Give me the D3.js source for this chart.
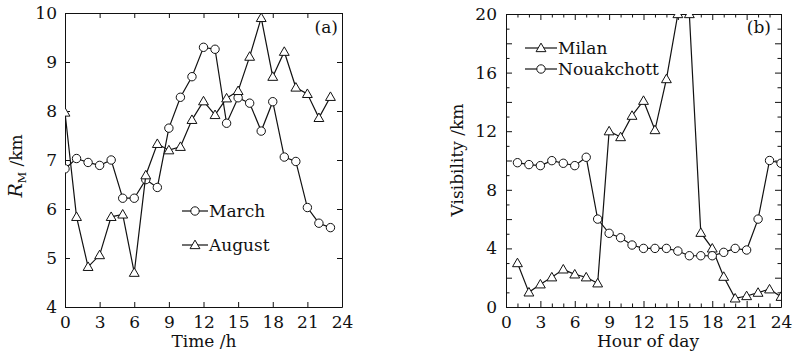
<!DOCTYPE html>
<html>
<head>
<meta charset="utf-8">
<script src="https://cdn.jsdelivr.net/npm/d3@7"></script>
<style>
  body { margin: 0; background: #fff; }
  svg text { font-family: "DejaVu Serif", serif; fill: #111; }
  .axis path, .axis line { stroke: #111; }
</style>
</head>
<body>
<div id="chart"></div>
<script>
// panel (a): hourly R_M in km
const hoursA = d3.range(0, 24);
const march = [6.82, 7.03, 6.95, 6.89, 7.0, 6.22, 6.22, 6.6, 6.44, 7.65, 8.28, 8.7,
    9.3, 9.26, 7.75, 8.27, 8.16, 7.59, 8.19, 7.06, 6.97, 6.03, 5.71, 5.62];
const august = [7.97, 5.84, 4.82, 5.06, 5.84, 5.89, 4.7, 6.69, 7.33, 7.2, 7.27, 7.82,
    8.2, 7.92, 8.26, 8.41, 9.11, 9.9, 8.7, 9.21, 8.48, 8.35, 7.86, 8.29];

// panel (b): visibility in km
const hoursB = d3.range(1, 25);
const milan = [3.0, 1.0, 1.55, 2.03, 2.57, 2.23, 2.03, 1.62, 12.0, 11.6, 13.06, 14.08,
    12.08, 15.56, 20.0, 20.0, 5.07, 4.0, 2.07, 0.59, 0.75, 0.98, 1.21, 0.7];
const nouakchott = [9.85, 9.72, 9.65, 9.99, 9.81, 9.65, 10.22, 6.0, 5.03, 4.73, 4.23, 4.0,
    4.0, 4.0, 3.82, 3.5, 3.5, 3.5, 3.73, 4.0, 3.89, 6.0, 10.0, 9.81];

const ticksA_x = d3.range(0, 25, 3);
const ticksA_y = d3.range(4, 11, 1);
const ticksB_x = d3.range(0, 25, 3);
const ticksB_y = d3.range(0, 21, 4);

const width = 795, height = 359;
const svg = d3.select('#chart').append('svg')
    .attr('width', width)
    .attr('height', height);

svg.append('defs').selectAll('clipPath')
    .data([{id: 'clipA', x: 65, y: 13, w: 277, h: 294}, {id: 'clipB', x: 506, y: 14, w: 275, h: 293}])
    .join('clipPath')
    .attr('id', d => d.id)
    .append('rect')
    .attr('x', d => d.x).attr('y', d => d.y)
    .attr('width', d => d.w).attr('height', d => d.h);

const triangle = d3.symbol().type(d3.symbolTriangle).size(42);
const fmt = d3.format('d');

function drawSeries(g, xs, ys, x, y, marker, clipId) {
    const pts = xs.map((h, i) => [x(h), y(ys[i])]);
    const grp = g.append('g').attr('clip-path', `url(#${clipId})`);
    grp.append('path')
        .datum(pts)
        .attr('fill', 'none')
        .attr('stroke', '#111')
        .attr('stroke-width', 1.2)
        .attr('d', d3.line());
    drawMarkers(grp, pts, marker);
}

function drawMarkers(grp, pts, marker) {
    if (marker === 'circle') {
        grp.selectAll(null).data(pts).join('circle')
            .attr('cx', d => d[0]).attr('cy', d => d[1]).attr('r', 4.2)
            .attr('fill', '#fff').attr('stroke', '#111').attr('stroke-width', 1);
    } else {
        grp.selectAll(null).data(pts).join('path')
            .attr('transform', d => `translate(${d[0]},${d[1] + 0.8})`)
            .attr('d', triangle)
            .attr('fill', '#fff').attr('stroke', '#111').attr('stroke-width', 1);
    }
}

function legendItem(g, x0, x1, yy, marker, label) {
    g.append('line').attr('x1', x0).attr('x2', x1).attr('y1', yy).attr('y2', yy)
        .attr('stroke', '#111').attr('stroke-width', 1.2);
    drawMarkers(g.append('g'), [[(x0 + x1) / 2, yy]], marker);
    g.append('text').attr('x', x1 + 1).attr('y', yy + 6)
        .style('font-size', '17px').text(label);
}

// ----- panel (a)
const xA = d3.scaleLinear().domain([0, 24]).range([65, 342]);
const yA = d3.scaleLinear().domain([4, 10]).range([307, 13]);
const gA = svg.append('g');

gA.append('g').attr('class', 'axis').attr('transform', 'translate(0,307)')
    .call(d3.axisBottom(xA).tickValues(ticksA_x).tickSizeInner(-5).tickSizeOuter(0).tickPadding(9).tickFormat(fmt))
    .call(a => a.selectAll('text').style('font-size', '17px').style('font-family', 'DejaVu Serif'));
gA.append('g').attr('class', 'axis').attr('transform', 'translate(0,13)')
    .call(d3.axisTop(xA).tickValues(ticksA_x).tickSizeInner(-5).tickSizeOuter(0).tickFormat(''));
gA.append('g').attr('class', 'axis').attr('transform', 'translate(65,0)')
    .call(d3.axisLeft(yA).tickValues(ticksA_y).tickSizeInner(-5).tickSizeOuter(0).tickPadding(8).tickFormat(fmt))
    .call(a => a.selectAll('text').style('font-size', '17px').style('font-family', 'DejaVu Serif'));
gA.append('g').attr('class', 'axis').attr('transform', 'translate(342,0)')
    .call(d3.axisRight(yA).tickValues(ticksA_y).tickSizeInner(-5).tickSizeOuter(0).tickFormat(''));

drawSeries(gA, hoursA, march, xA, yA, 'circle', 'clipA');
drawSeries(gA, hoursA, august, xA, yA, 'triangle', 'clipA');

legendItem(gA, 182, 208, 211, 'circle', 'March');
legendItem(gA, 182, 208, 245, 'triangle', 'August');

gA.append('text').attr('x', 338).attr('y', 33).attr('text-anchor', 'end')
    .style('font-size', '17px').text('(a)');
gA.append('text').attr('x', 204).attr('y', 347).attr('text-anchor', 'middle')
    .style('font-size', '17px').text('Time /h');
const ttlA = gA.append('text').attr('transform', 'translate(22,166) rotate(-90)')
    .attr('text-anchor', 'middle').style('font-size', '17px');
ttlA.append('tspan').style('font-style', 'italic').style('font-size', '19px').text('R');
ttlA.append('tspan').attr('dy', 4).style('font-size', '11px').text('M');
ttlA.append('tspan').attr('dy', -4).text(' /km');

// ----- panel (b)
const xB = d3.scaleLinear().domain([0, 24]).range([506, 781]);
const yB = d3.scaleLinear().domain([0, 20]).range([307, 14]);
const gB = svg.append('g');

const minorX = d3.range(0, 25, 1).filter(v => v % 3 !== 0);
const minorY = d3.range(0, 21, 1).filter(v => v % 2 !== 0);
const midY = d3.range(0, 21, 2).filter(v => v % 4 !== 0);

function ticksB(orient, pos, scale, major, minor, mid, labels) {
    const axisFn = {bottom: d3.axisBottom, top: d3.axisTop, left: d3.axisLeft, right: d3.axisRight}[orient];
    const tr = (orient === 'bottom' || orient === 'top') ? `translate(0,${pos})` : `translate(${pos},0)`;
    const g1 = gB.append('g').attr('class', 'axis').attr('transform', tr)
        .call(axisFn(scale).tickValues(major).tickSizeInner(-6).tickSizeOuter(0).tickPadding(9)
            .tickFormat(labels ? fmt : ''));
    g1.selectAll('text').style('font-size', '17px').style('font-family', 'DejaVu Serif');
    gB.append('g').attr('class', 'axis').attr('transform', tr)
        .call(axisFn(scale).tickValues(minor).tickSizeInner(-3.5).tickSizeOuter(0).tickFormat(''))
        .call(a => a.select('.domain').remove());
    if (mid) {
        gB.append('g').attr('class', 'axis').attr('transform', tr)
            .call(axisFn(scale).tickValues(mid).tickSizeInner(-6).tickSizeOuter(0).tickFormat(''))
            .call(a => a.select('.domain').remove());
    }
}
ticksB('bottom', 307, xB, ticksB_x, minorX, null, true);
ticksB('top', 14, xB, ticksB_x, minorX, null, false);
ticksB('left', 506, yB, ticksB_y, minorY, midY, true);
ticksB('right', 781, yB, ticksB_y, minorY, midY, false);

drawSeries(gB, hoursB, milan, xB, yB, 'triangle', 'clipB');
drawSeries(gB, hoursB, nouakchott, xB, yB, 'circle', 'clipB');

legendItem(gB, 525, 557, 48, 'triangle', 'Milan');
legendItem(gB, 525, 557, 69, 'circle', 'Nouakchott');

gB.append('text').attr('x', 771).attr('y', 33).attr('text-anchor', 'end')
    .style('font-size', '17px').text('(b)');
gB.append('text').attr('x', 648).attr('y', 347).attr('text-anchor', 'middle')
    .style('font-size', '17px').text('Hour of day');
gB.append('text').attr('transform', 'translate(463,160) rotate(-90)')
    .attr('text-anchor', 'middle').style('font-size', '17px').text('Visibility /km');
</script>
</body>
</html>
